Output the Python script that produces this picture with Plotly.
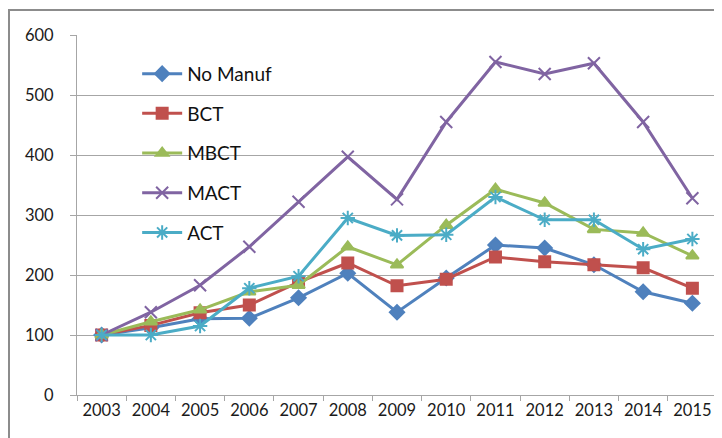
import plotly.graph_objects as go

years = ["2003", "2004", "2005", "2006", "2007", "2008", "2009", "2010", "2011", "2012", "2013", "2014", "2015"]
no_manuf = [100, 112, 127, 128, 162, 203, 138, 195, 250, 245, 217, 172, 153]
bct = [100, 116, 137, 150, 188, 220, 182, 193, 230, 222, 217, 212, 178]
mbct = [100, 122, 142, 172, 183, 247, 217, 283, 343, 320, 276, 270, 232]
mact = [100, 138, 183, 247, 322, 397, 326, 455, 555, 535, 553, 455, 328]
act = [100, 100, 115, 178, 198, 295, 266, 267, 330, 292, 292, 243, 260]
y_ticks = [0, 100, 200, 300, 400, 500, 600]

series = [
    ("No Manuf", no_manuf, "#4F81BD", "diamond", 11),
    ("BCT", bct, "#C0504D", "square", 11),
    ("MBCT", mbct, "#9BBB59", "triangle-up", 11),
    ("MACT", mact, "#8064A2", "x-thin-open", 12),
    ("ACT", act, "#4BACC6", "asterisk-open", 12),
]

fig = go.Figure()
for name, vals, color, sym, size in series:
    fig.add_trace(go.Scatter(
        x=years, y=vals, name=name, mode="lines+markers",
        legendgroup=name,
        line=dict(color=color, width=3),
        marker=dict(symbol=sym, size=size, color=color,
                    line=dict(color=color, width=2)),
    ))

fig.update_layout(
    width=722, height=438,
    margin=dict(l=69, r=13, t=27, b=51),
    paper_bgcolor="white", plot_bgcolor="white",
    font=dict(family="Lato, Open Sans, sans-serif", size=14, color="#1a1a1a"),
    showlegend=True,
    legend=dict(
        x=0.094, y=0.945, xanchor="left", yanchor="top",
        bgcolor="rgba(0,0,0,0)", font=dict(size=19, color="#111111"),
        tracegroupgap=12, itemwidth=40,
    ),
    xaxis=dict(
        type="category", showgrid=False, showline=True, linecolor="#A6A6A6",
        linewidth=1, ticks="outside", ticklen=5, tickcolor="#A6A6A6",
        tickson="boundaries", range=[-0.5, 12.5],
        tickfont=dict(size=16.5, color="#1a1a1a"),
    ),
    yaxis=dict(
        range=[0, 600], tickvals=y_ticks, showgrid=True, gridcolor="#A6A6A6",
        gridwidth=1, showline=True, linecolor="#A6A6A6", linewidth=1,
        ticks="outside", ticklen=6, tickcolor="#A6A6A6", zeroline=False,
        tickfont=dict(size=16.5, color="#1a1a1a"), ticklabelstandoff=13,
    ),
    shapes=[dict(type="rect", xref="paper", yref="paper",
                 x0=-68/640, x1=1.1, y0=-0.3, y1=1 + 25/360,
                 line=dict(color="#8C8C8C", width=2), fillcolor="rgba(0,0,0,0)",
                 layer="below")],
)

fig.write_html("out.html")
